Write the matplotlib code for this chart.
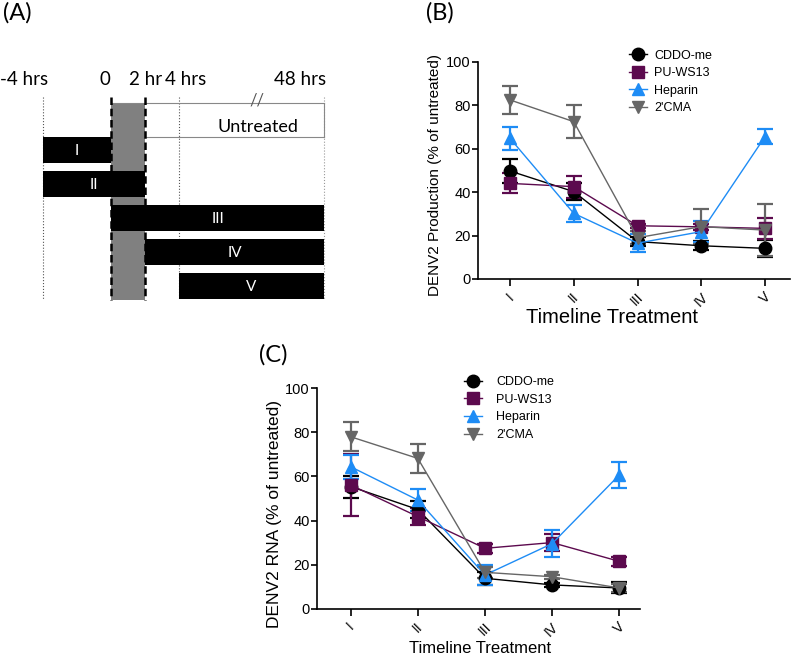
import numpy as np
import matplotlib
matplotlib.use('Agg')
import matplotlib.pyplot as plt

plt.rcParams['font.family'] = ['Liberation Sans', 'DejaVu Sans']

# panel A - treatment timeline
time_points = [-4, 0, 2, 4, 48]
time_labels = ['-4 hrs', '0', '2 hr', '4 hrs', '48 hrs']
time_pos = [0, 4, 6, 8, 16.5]   # schematic scale, 4-48 hrs is squeezed
treatments = ['I', 'II', 'III', 'IV', 'V']
start_hr = [-4, -4, 0, 2, 4]
end_hr = [0, 2, 48, 48, 48]

# panels B and C
stages = ['I', 'II', 'III', 'IV', 'V']
drugs = ['CDDO-me', 'PU-WS13', 'Heparin', "2'CMA"]

cddo_prod = [49.7, 40.2, 17.2, 15.3, 14.1]
cddo_prod_err = [5.5, 4, 2, 2, 4]
pu_prod = [44.0, 42.5, 24.5, 24.0, 23.3]
pu_prod_err = [4.6, 5, 1, 1.5, 5]
hep_prod = [64.7, 30.2, 16.5, 21.8, 65.5]
hep_prod_err = [5.3, 4, 4, 5, 3.5]
cma_prod = [82.4, 72.4, 19.0, 24.1, 22.5]
cma_prod_err = [6.3, 7.5, 3, 8, 12]

cddo_rna = [55.4, 45.0, 13.8, 10.8, 9.4]
cddo_rna_err = [5, 4, 3, 1, 2.5]
pu_rna = [56.1, 41.8, 27.4, 30.0, 21.5]
pu_rna_err = [14, 4, 2, 4, 2]
hep_rna = [64.4, 49.3, 15.3, 29.5, 60.6]
hep_rna_err = [5.5, 5, 4.5, 6, 6]
cma_rna = [78.0, 68.2, 16.5, 14.5, 9.4]
cma_rna_err = [6.5, 6.5, 2.5, 1, 2]

colors = ['#000000', '#5c0a4e', '#1e8cf5', '#666666']
markers = ['o', 's', '^', 'v']

fig = plt.figure(figsize=(8, 6.58), dpi=100)
W, H = 800, 658


def sched(t):
    return np.interp(t, time_points, time_pos)


# ---------------- (A) ----------------
ax_a = fig.add_axes([0, 1 - 320 / H, 340 / W, 280 / H])
ax_a.set_xlim(-2.525, 17.44)
ax_a.set_ylim(6.0, -2.235)
ax_a.axis('off')
afont = 'Lato'

x0, x2 = sched(0), sched(2)
ax_a.fill_between([x0, x2], -0.38, 5.41, color='#808080', lw=0, zorder=1)
for t in [-4, 4]:
    ax_a.plot([sched(t)] * 2, [-0.56, 5.41], color='#555555', lw=0.8, ls=':', zorder=0)
ax_a.plot([sched(48)] * 2, [-0.56, 5.41], color='#999999', lw=0.8, ls=':', zorder=0)
for t in [0, 2]:
    ax_a.plot([sched(t)] * 2, [-0.56, 5.41], color='black', lw=1.8,
              dashes=(3, 1.5), zorder=3)

# untreated box
ax_a.plot([x0, sched(48)], [-0.38, -0.38], color='#888888', lw=0.8, zorder=2)
ax_a.plot([x2, sched(48)], [0.62, 0.62], color='#888888', lw=0.8, zorder=2)
ax_a.plot([sched(48)] * 2, [-0.38, 0.62], color='#888888', lw=0.8, zorder=2)
ax_a.text(12.6, 0.32, 'Untreated', family=afont, fontsize=13, ha='center', va='center')
ax_a.text(12.55, -0.47, '//', family=afont, fontsize=12, ha='center', va='center',
          color='#555555')

for i, lab in enumerate(treatments):
    left = sched(start_hr[i])
    width = sched(end_hr[i]) - left
    ax_a.barh(i + 1, width, left=left, height=0.78, color='black', zorder=4)
    ax_a.text(left + width / 2, i + 1.03, lab, color='white', family=afont,
              fontsize=11, ha='center', va='center', zorder=5)

label_dx = [0.3, -0.05, 0, 0.4, 0.15]
label_ha = ['right', 'right', 'center', 'center', 'right']
for t, lab, dx, ha in zip(time_points, time_labels, label_dx, label_ha):
    ax_a.text(sched(t) + dx, -1.06, lab, family=afont, fontsize=13.5, ha=ha, va='center')


# ---------------- (B) & (C) ----------------
def draw_panel(ax, series, errs, xmax, ylabel, ylab_size, ylab_xy, leg_xy, leg_pad,
               xlab_xy, xlab_size):
    x = np.arange(len(stages))
    handles = []
    for vals, err, c, m, name in zip(series, errs, colors, markers, drugs):
        ax.errorbar(x, vals, yerr=err, color=c, ls='none', elinewidth=1.6,
                    capsize=6, capthick=1.6, zorder=2)
        h, = ax.plot(x, vals, color=c, marker=m, markersize=9, lw=1.0,
                     markeredgecolor=c, label=name, zorder=3)
        handles.append(h)
    ax.set_xlim(-0.507, xmax)
    ax.set_ylim(0, 100)
    ax.set_yticks(range(0, 101, 20))
    ax.set_xticks(x)
    ax.set_xticklabels(stages, rotation=45, ha='center', va='top', fontsize=10)
    ax.tick_params(axis='y', labelsize=10.5, direction='out', length=4, width=1.2, pad=1)
    ax.tick_params(axis='x', direction='out', length=5, width=1.2, pad=3)
    for s in ['top', 'right']:
        ax.spines[s].set_visible(False)
    for s in ['left', 'bottom']:
        ax.spines[s].set_linewidth(1.2)
    ax.set_ylabel(ylabel, fontsize=ylab_size)
    ax.yaxis.set_label_coords(*ylab_xy)
    ax.set_xlabel('Timeline Treatment', fontsize=xlab_size)
    ax.xaxis.set_label_coords(*xlab_xy)
    ax.legend(handles=handles, loc='upper left', bbox_to_anchor=leg_xy, frameon=False,
              fontsize=9, handlelength=1.45, handletextpad=leg_pad, labelspacing=0.45,
              borderpad=0, borderaxespad=0)


ax_b = fig.add_axes([477.7 / W, 1 - 279 / H, 312 / W, 217.3 / H])
draw_panel(ax_b, [cddo_prod, pu_prod, hep_prod, cma_prod],
           [cddo_prod_err, pu_prod_err, hep_prod_err, cma_prod_err],
           4.387, 'DENV2 Production (% of untreated)', 11, (-0.114, 0.48),
           (0.485, 1.056), 0.56, (0.43, -0.135), 14.5)

ax_c = fig.add_axes([316.7 / W, 1 - 608.7 / H, 323.3 / W, 220.4 / H])
draw_panel(ax_c, [cddo_rna, pu_rna, hep_rna, cma_rna],
           [cddo_rna_err, pu_rna_err, hep_rna_err, cma_rna_err],
           4.311, 'DENV2 RNA (% of untreated)', 12.5, (-0.107, 0.43),
           (0.456, 1.055), 1.1, (0.505, -0.147), 12)

for lab, px, py in [('(A)', 17, 13), ('(B)', 440, 13), ('(C)', 273, 355)]:
    fig.text(px / W, 1 - py / H, lab, family='Lato', fontsize=17, ha='center', va='center')

fig.savefig('out.png', dpi=100)
